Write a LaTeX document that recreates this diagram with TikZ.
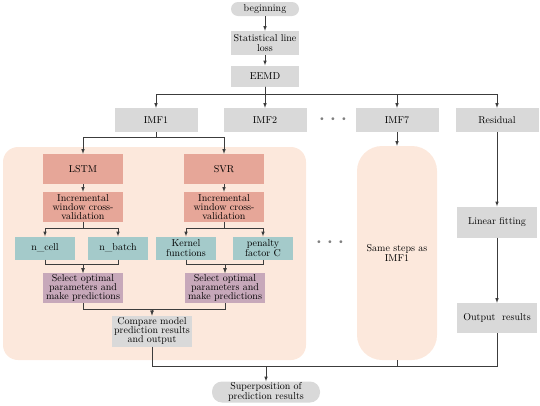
\documentclass[tikz,border=0pt]{standalone}
\usetikzlibrary{positioning,arrows}
\definecolor{boxgrey}{RGB}{217,217,217}
\definecolor{salmon}{RGB}{230,166,152}
\definecolor{teal}{RGB}{164,202,202}
\definecolor{mauve}{RGB}{199,168,186}
\definecolor{peach}{RGB}{252,232,220}
\definecolor{linegrey}{RGB}{60,60,60}
\begin{document}
\begin{tikzpicture}[x=1pt,y=-1pt,>=latex,
		every node/.style={font=\fontsize{10}{9.4}\selectfont, align=center, inner sep=1pt},
		conn/.style={draw=linegrey, line width=0.6pt},
		greybox/.style={fill=boxgrey, minimum width=83, minimum height=24},
		pill/.style={fill=boxgrey, rounded corners=7, minimum width=68, minimum height=14},
		modelbox/.style={fill=salmon, minimum width=80, minimum height=30},
		parambox/.style={fill=teal, minimum width=60, minimum height=23},
		selbox/.style={fill=mauve, minimum width=80, minimum height=30},
		panel/.style={fill=peach},
		dots/.style={text=gray}]
		\useasboundingbox (0,0) rectangle (540,405);
		% panels behind the boxes
		\node[panel, rounded corners=15, minimum width=303, minimum height=213] (panelA) at (154.5,253.5) {};
		\node[panel, rounded corners=25, minimum width=80, minimum height=214] (panelB) at (397,253) {Same steps as\\IMF1};
		% top chain
		\node[pill] (begin) at (265,9) {beginning};
		\node[greybox, minimum width=68] (loss) at (265,43) {Statistical line\\loss};
		\node[greybox, minimum width=68, minimum height=21] (eemd) at (265,76) {EEMD};
		\node[greybox] (imf1) at (156,120) {IMF1};
		\node[greybox] (imf2) at (265,120) {IMF2};
		\node[dots] (dotsA) at (333,120) {\textbullet\ \textbullet\ \textbullet};
		\node[greybox] (imf7) at (397,120) {IMF7};
		\node[greybox] (resid) at (497,120) {Residual};
		% IMF1 branch
		\node[modelbox] (lstm) at (83,169) {LSTM};
		\node[modelbox] (svr) at (224,169) {SVR};
		\node[modelbox] (lwin) at (83,207) {Incremental\\window cross-\\validation};
		\node[modelbox] (swin) at (224,207) {Incremental\\window cross-\\validation};
		\node[parambox] (ncell) at (45,248) {n\_cell};
		\node[parambox] (nbatch) at (118,248) {n\_batch};
		\node[parambox] (kernel) at (186,248) {Kernel\\functions};
		\node[parambox] (penalty) at (263,248) {penalty\\factor C};
		\node[dots] (dotsB) at (330,243) {\textbullet\ \textbullet\ \textbullet};
		\node[selbox] (lsel) at (83,288) {Select optimal\\parameters and\\make predictions};
		\node[selbox] (ssel) at (225,288) {Select optimal\\parameters and\\make predictions};
		\node[greybox, minimum width=80, minimum height=31] (compare) at (152,331) {Compare model\\prediction results\\and output};
		% residual branch
		\node[greybox, minimum width=80, minimum height=31] (linfit) at (497,222) {Linear fitting};
		\node[greybox, minimum width=80, minimum height=30] (outres) at (497,318) {Output~~results};
		\node[pill, rounded corners=10, minimum width=108, minimum height=21] (super) at (266,392) {Superposition of\\prediction results};
		\coordinate (sumL) at (152,366);
		% connectors
		\draw[conn,->] (begin) -- (loss);
		\draw[conn,->] (loss) -- (eemd);
		\draw[conn,->] (eemd.south) -- ++(0,8) -| (imf1.north);
		\draw[conn,->] (eemd.south) -- (imf2.north);
		\draw[conn,->] (eemd.south) -- ++(0,8) -| (imf7.north);
		\draw[conn,->] (eemd.south) -- ++(0,8) -| (resid.north);
		\draw[conn,->] (imf1.south) -- ++(0,5) -| (lstm.north);
		\draw[conn,->] (imf1.south) -- ++(0,5) -| (svr.north);
		\draw[conn,->] (lstm) -- (lwin);
		\draw[conn,->] (svr) -- (swin);
		\draw[conn,->] (lwin.south) -- ++(0,6) -| (ncell.north);
		\draw[conn,->] (lwin.south) -- ++(0,6) -| (nbatch.north);
		\draw[conn,->] (swin.south) -- ++(0,6) -| (kernel.north);
		\draw[conn,->] (swin.south) -- ++(0,6) -| (penalty.north);
		\draw[conn,->] (ncell.south) -- ++(0,5) -| (lsel.north);
		\draw[conn,->] (nbatch.south) -- ++(0,5) -| (lsel.north);
		\draw[conn,->] (kernel.south) -- ++(0,5) -| (ssel.north);
		\draw[conn,->] (penalty.south) -- ++(0,5) -| (ssel.north);
		\draw[conn,->] (lsel.south) -- ++(0,6) -| (compare.north);
		\draw[conn,->] (ssel.south) -- ++(0,6) -| (compare.north);
		\draw[conn,->] (imf7) -- (panelB);
		\draw[conn,->] (resid) -- (linfit);
		\draw[conn,->] (linfit) -- (outres);
		\draw[conn] (compare.south) |- (outres.south |- sumL) -- (outres.south);
		\draw[conn] (panelB.south) -- (panelB.south |- sumL);
		\draw[conn,->] (super.north |- sumL) -- (super.north);
\end{tikzpicture}
\end{document}
